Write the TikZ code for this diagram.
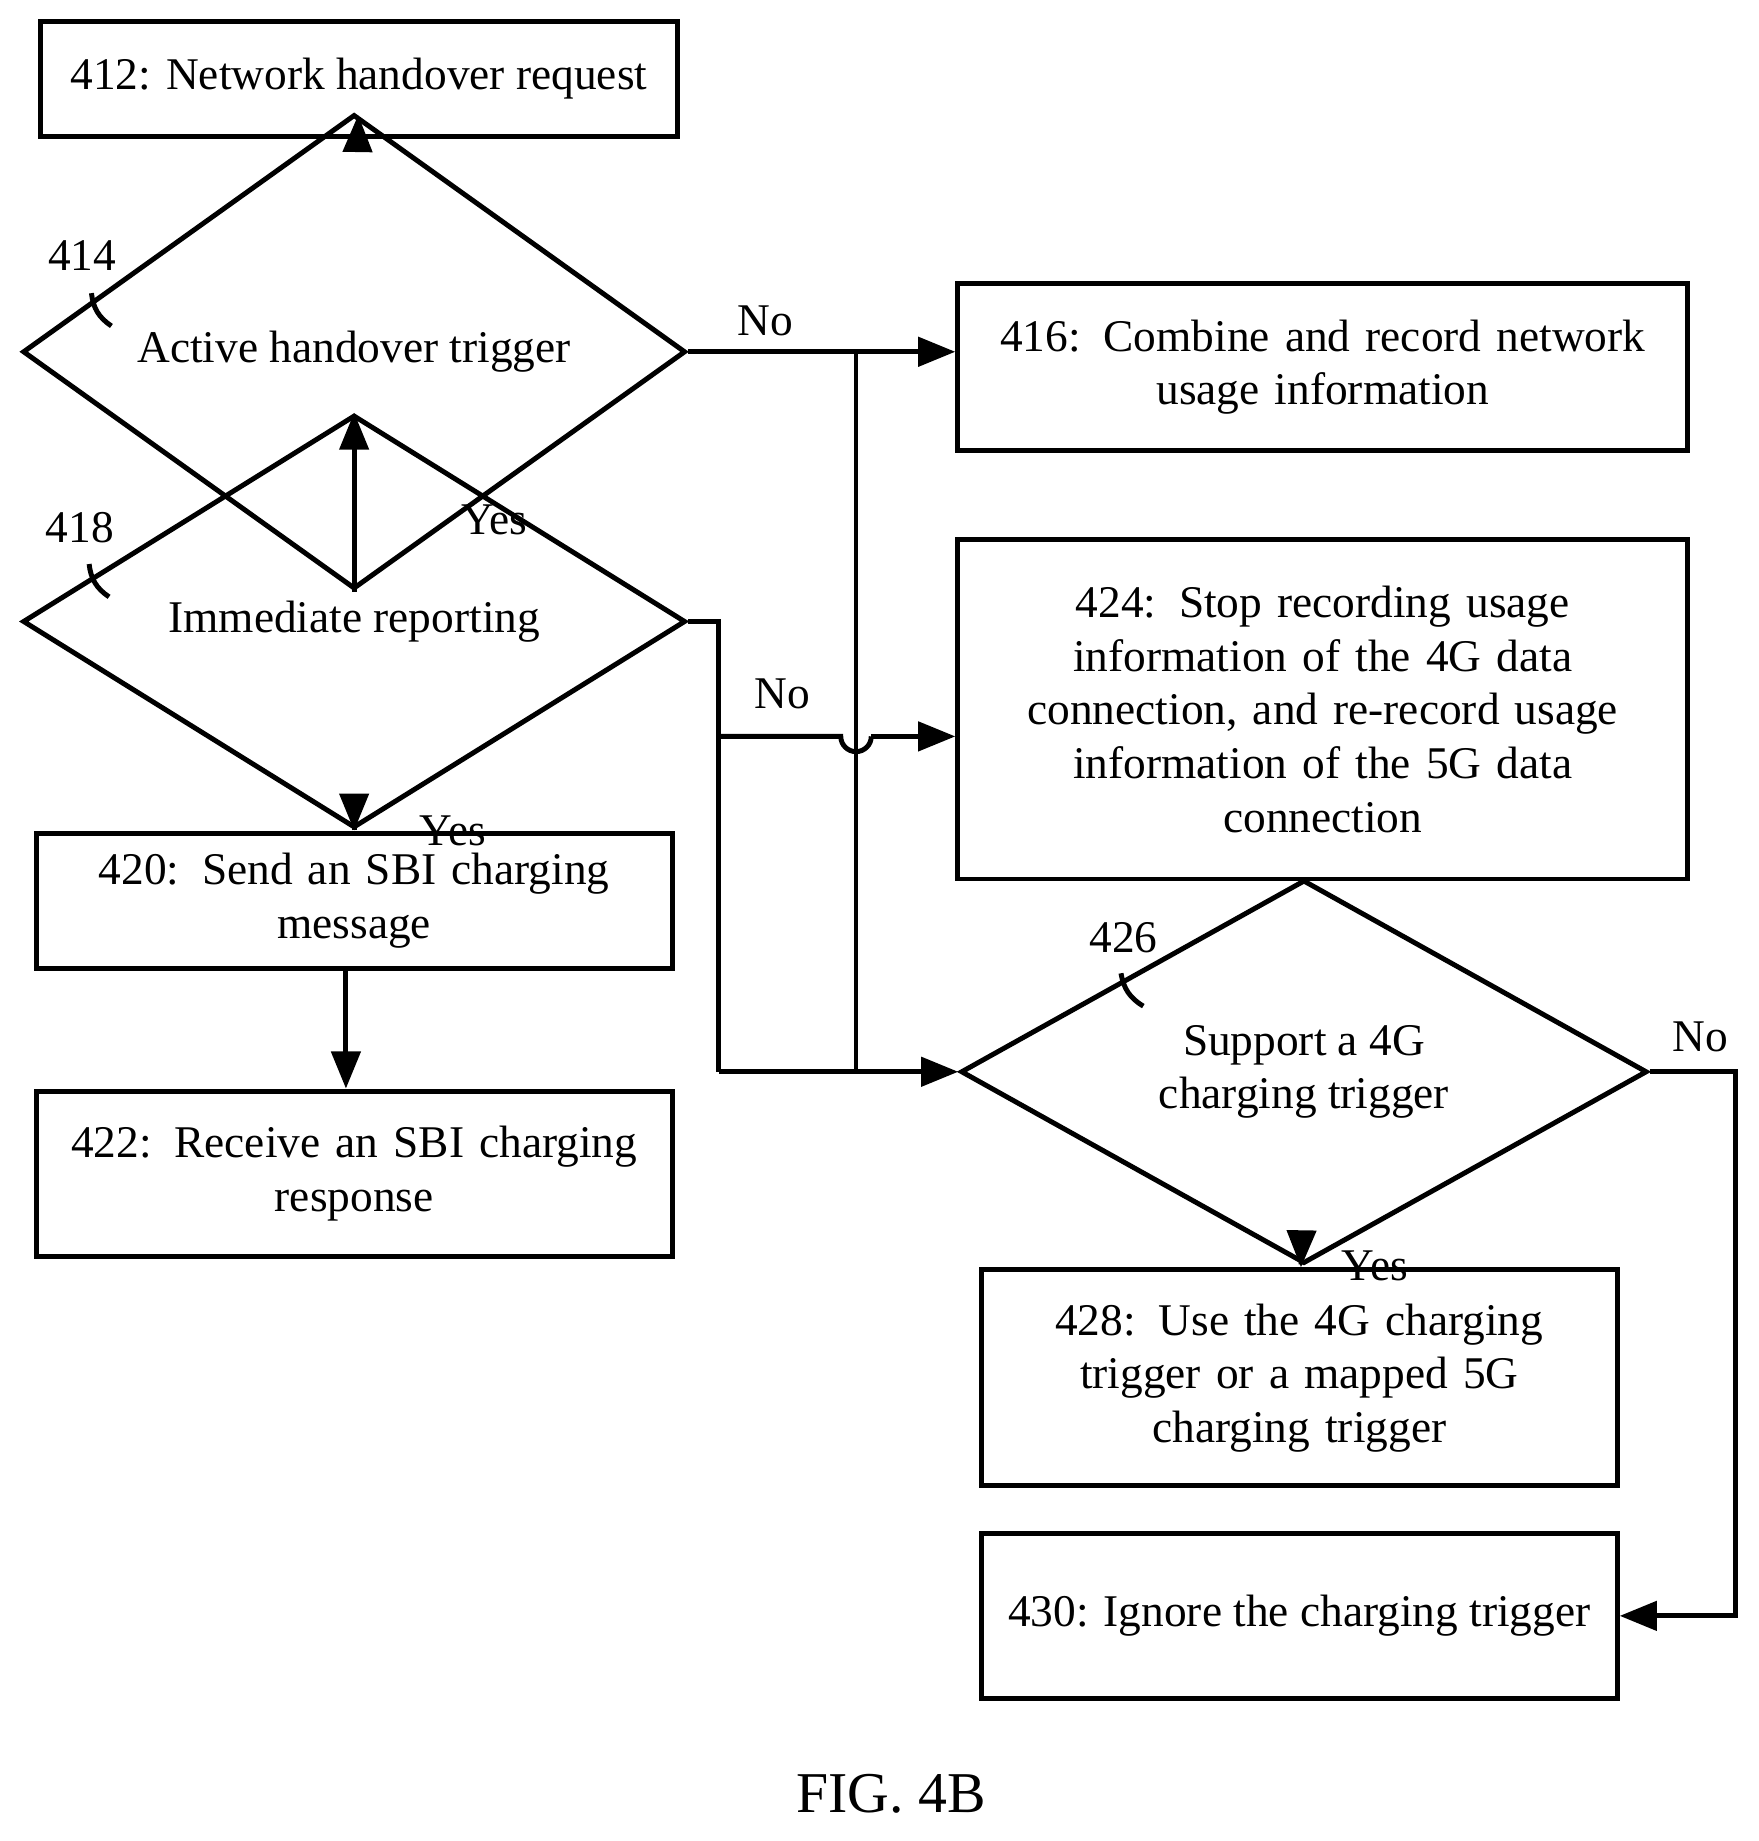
\documentclass[tikz,border=0pt]{standalone}
\usepackage{fontspec}
\setmainfont{Liberation Serif}
\usetikzlibrary{shapes.geometric,arrows.meta}

\begin{document}
\begin{tikzpicture}[x=0.01cm,y=-0.01cm,
    font=\fontsize{11}{13}\selectfont,
    box/.style={draw, line width=1.2pt, align=center, inner sep=2pt},
    dec/.style={draw, diamond, line width=1.2pt, align=center, inner sep=0pt},
    line/.style={line width=1.2pt},
    arr/.style={line width=1.2pt, -{Triangle[length=9pt,width=7pt]}}]
  \useasboundingbox (0,0) rectangle (1500,1570);

  % Left column
  \node[box, minimum width=5.43cm, minimum height=0.98cm] (b412) at (306,67) {412: Network handover request};
  \node[dec, minimum width=5.65cm, minimum height=1.46cm] (d414) at (302,300) {Active handover trigger};
  \node[dec, minimum width=5.65cm, minimum height=1.46cm] (d418) at (302,530) {Immediate reporting};
  \node[box, minimum width=5.42cm, minimum height=1.15cm, text width=5cm] (b420) at (302,768) {420: Send an SBI charging\\message};
  \node[box, minimum width=5.42cm, minimum height=1.41cm, text width=5cm] (b422) at (302,1001) {422: Receive an SBI charging\\response};

  % Right column
  \node[box, minimum width=6.22cm, minimum height=1.42cm, text width=6cm] (b416) at (1128,313) {416: Combine and record network\\usage information};
  \node[box, minimum width=6.22cm, minimum height=2.89cm, text width=6cm] (b424) at (1128,605) {424: Stop recording usage\\information of the 4G data\\connection, and re-record usage\\information of the 5G data\\connection};
  \node[dec, minimum width=5.85cm, minimum height=2.12cm] (d426) at (1112,914) {Support a 4G\\charging trigger};
  \node[box, minimum width=5.42cm, minimum height=1.84cm, text width=5.2cm] (b428) at (1108,1175) {428: Use the 4G charging\\trigger or a mapped 5G\\charging trigger};
  \node[box, minimum width=5.42cm, minimum height=1.41cm] (b430) at (1108,1378) {430: Ignore the charging trigger};

  % Step numbers
  \node (n414) at (70,218) {414};
  \node (n418) at (68,450) {418};
  \node (n426) at (958,800) {426};
  \draw[line] (78,250) to[bend right=25] (95,278);
  \draw[line] (76,481) to[bend right=25] (93,509);
  \draw[line] (956,830) to[bend right=25] (975,858);

  % Helper points
  \coordinate (j1) at (730,300);
  \coordinate (j2) at (613,530);
  \coordinate (j3) at (613,628);
  \coordinate (j4) at (613,914);
  \coordinate (j5) at (1480,914);

  % Connectors
  \draw[arr] (b412) -- (d414);
  \draw[arr] (d414) -- node[right=22pt, pos=0.4] {Yes} (d418);
  \draw[arr] (d418) -- node[right=12pt, pos=0.5] {Yes} (b420);
  \draw[arr] (b420.south -| 295,0) -- (b422.north -| 295,0);
  \draw[arr] (d414.east) -- node[above, pos=0.29] {No} (b416.west |- d414.east);
  \draw[line] (j1) -- (730,914);
  \draw[line] (d418.east) -- (j2) -- (j4);
  \draw[arr] (j4) -- (d426.west);
  \draw[line] (j3) -- (717,628) arc[start angle=180, end angle=0, radius=13] -- (743,628);
  \draw[arr] (743,628) -- (b424.west |- j3);
  \node (no418) at (667,592) {No};
  \draw[arr] (d426) -- node[right=6pt] {Yes} (b428);
  \draw[arr] (d426.east) -- (j5) -- (j5 |- b430.east) -- (b430.east);
  \node (no426) at (1450,884) {No};

  \node[font=\fontsize{14}{16}\selectfont] (fig) at (760,1530) {FIG. 4B};
\end{tikzpicture}
\end{document}
